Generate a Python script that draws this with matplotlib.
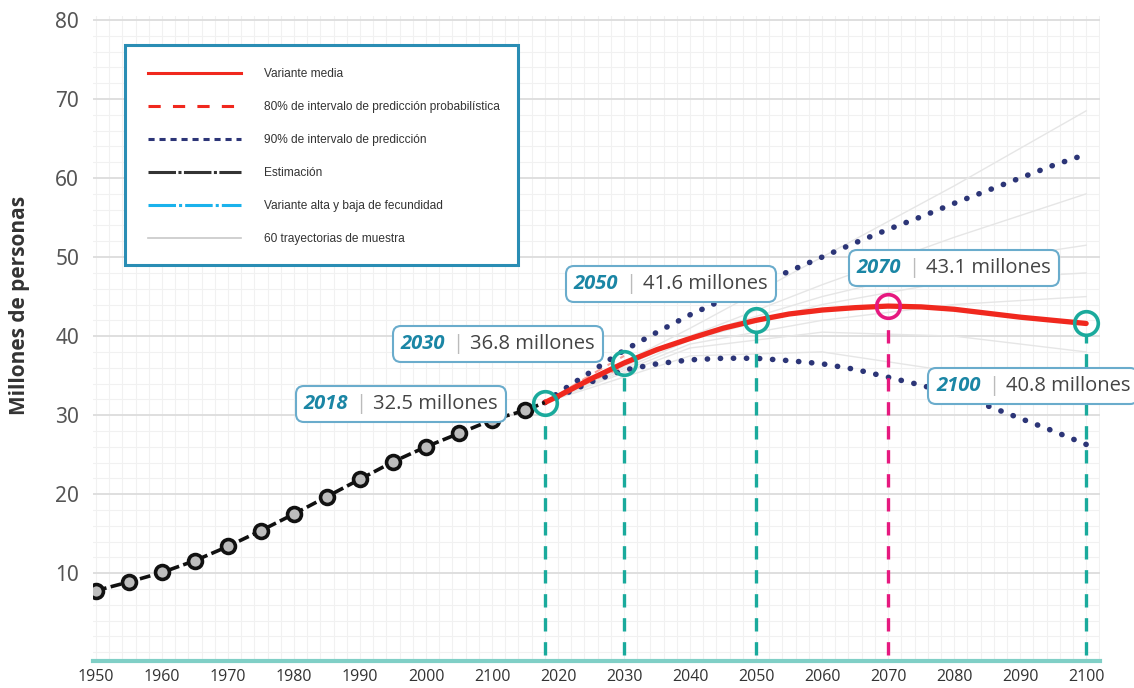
import matplotlib
matplotlib.use("Agg")
import matplotlib.pyplot as plt
from matplotlib.lines import Line2D
from matplotlib.patches import Rectangle
from matplotlib.ticker import MultipleLocator
from matplotlib.offsetbox import TextArea, HPacker, AnnotationBbox

# ---- data ----
years_hist = [1950, 1955, 1960, 1965, 1970, 1975, 1980, 1985, 1990, 1995, 2000, 2005, 2010, 2015]
pop_hist = [7.8, 8.9, 10.1, 11.6, 13.4, 15.4, 17.5, 19.7, 21.9, 24.1, 26.0, 27.7, 29.4, 30.6]

years_proj = [2018, 2020, 2025, 2030, 2035, 2040, 2045, 2050, 2055, 2060,
              2065, 2070, 2075, 2080, 2085, 2090, 2095, 2100]
median = [31.6, 32.4, 34.6, 36.6, 38.3, 39.7, 41.0, 42.0, 42.8, 43.3,
          43.6, 43.8, 43.7, 43.4, 42.9, 42.4, 42.0, 41.6]
upper90 = [31.6, 32.8, 35.5, 38.2, 40.5, 42.7, 44.6, 46.4, 48.2, 50.0,
           51.8, 53.5, 55.1, 56.8, 58.4, 60.0, 61.6, 63.0]
lower90 = [31.6, 32.3, 34.2, 35.7, 36.5, 37.0, 37.2, 37.2, 36.9, 36.5,
           35.8, 34.8, 33.8, 32.6, 31.2, 29.6, 28.0, 26.3]

years_pi80 = [2018, 2022, 2026, 2030]
upper80 = [31.6, 33.6, 35.6, 37.5]
lower80 = [31.6, 33.1, 34.7, 36.1]

years_traj = [2018, 2040, 2060, 2080, 2100]
trajectories = [
    [31.6, 41.0, 50.0, 59.0, 68.5],
    [31.6, 40.0, 46.5, 52.5, 58.0],
    [31.6, 40.0, 45.0, 49.0, 51.5],
    [31.6, 39.5, 44.0, 47.0, 48.0],
    [31.6, 39.0, 42.0, 44.0, 45.0],
    [31.6, 38.5, 40.5, 40.0, 38.0],
    [31.6, 37.5, 38.0, 35.5, 32.0],
]

key_years = [2018, 2030, 2050, 2070, 2100]
key_labels = ["2018", "2030", "2050", "2070", "2100"]
key_values = ["32.5", "36.8", "41.6", "43.1", "40.8"]
key_colors = ["#1aaa9c", "#1aaa9c", "#1aaa9c", "#e6197f", "#1aaa9c"]
# where each callout box sits (data coords)
label_pos = [(1996.2, 31.4), (2010.9, 39.0), (2037.1, 46.6), (2080.0, 48.6), (2092.0, 33.7)]

xtick_years = list(range(1950, 2101, 10))
xtick_labels = ["1950", "1960", "1970", "1980", "1990", "2000", "2100", "2020",
                "2030", "2040", "2050", "2060", "2070", "2080", "2090", "2100"]
ytick_vals = [10, 20, 30, 40, 50, 60, 70, 80]

legend_labels = ["Variante media",
                 "80% de intervalo de predicción probabilística",
                 "90% de intervalo de predicción",
                 "Estimación",
                 "Variante alta y baja de fecundidad",
                 "60 trayectorias de muestra"]

# ---- figure ----
W, H = 1134, 688
fig = plt.figure(figsize=(W / 100, H / 100), dpi=100)
ax = fig.add_axes([93 / W, 27 / H, 1007 / W, 645 / H])
ax.set_xlim(1949.55, 2102.1)
ax.set_ylim(-1.1, 80.5)

# grid
ax.xaxis.set_minor_locator(MultipleLocator(2))
ax.yaxis.set_minor_locator(MultipleLocator(2))
ax.grid(which="minor", color="#f1f1f1", lw=0.8, zorder=0)
ax.grid(which="major", axis="x", color="#f1f1f1", lw=0.8, zorder=0)
ax.grid(which="major", axis="y", color="#dcdcdc", lw=1.3, zorder=0)
ax.set_axisbelow(True)

for s in ["top", "right", "left"]:
    ax.spines[s].set_visible(False)
ax.spines["bottom"].set_color("#80cfc6")
ax.spines["bottom"].set_linewidth(3)

ax.set_xticks(xtick_years)
ax.set_xticklabels(xtick_labels, family="Open Sans", fontsize=11.5, color="#333333")
ax.set_yticks(ytick_vals)
ax.set_yticklabels([str(v) for v in ytick_vals], family="Noto Sans",
                   fontsize=15, color="#555555")
ax.tick_params(axis="both", which="both", length=0)
ax.tick_params(axis="x", pad=6)
ax.tick_params(axis="y", pad=10)

ax.set_ylabel("Millones de personas", fontsize=15, fontweight="bold",
              family="Open Sans", color="#333333")
ax.yaxis.set_label_coords(-0.0626, 0.552)

# sample trajectories
for tr in trajectories:
    ax.plot(years_traj, tr, color="#e6e6e6", lw=1.0, zorder=1)

# 80% interval (only visible near the start)
ax.plot(years_pi80, upper80, color="#f5a39b", lw=1.5, ls=(0, (4, 3)), zorder=2)
ax.plot(years_pi80, lower80, color="#f5a39b", lw=1.5, ls=(0, (4, 3)), zorder=2)

# 90% interval
for series in (upper90, lower90):
    ax.plot(years_proj, series, color="#2c3577", lw=4, ls=(0, (0.05, 2.3)),
            dash_capstyle="round", zorder=3)

# median
ax.plot(years_proj, median, color="#f0281e", lw=3.8, solid_capstyle="round", zorder=4)

# estimation
ax.plot(years_hist + [2018], pop_hist + [median[0]], color="#111111", lw=2.6,
        ls=(0, (3, 1.2)), zorder=4)
ax.plot(years_hist, pop_hist, ls="none", marker="o", ms=10, mfc="#bdbdbd",
        mec="#111111", mew=2.6, zorder=5)

# key markers, drop lines and callouts
for yr, lab, val, col, (lx, ly) in zip(key_years, key_labels, key_values, key_colors, label_pos):
    yv = median[years_proj.index(yr)]
    ax.plot([yr, yr], [-0.4, yv - 1.6], color=col, lw=2.4, ls=(0, (4, 3.2)), zorder=3)
    ax.plot([yr], [yv], marker="o", ms=17, mfc="none", mec=col, mew=2.6, zorder=6)

    t_year = TextArea(lab, textprops=dict(color="#1b86a5", fontsize=14.5, fontweight="bold",
                                          fontstyle="italic", family="Open Sans"))
    t_sep = TextArea("|", textprops=dict(color="#bbbbbb", fontsize=14.5, family="Open Sans"))
    t_val = TextArea(val + " millones", textprops=dict(color="#444444", fontsize=14.5,
                                                       family="Open Sans"))
    pack = HPacker(children=[t_year, t_sep, t_val], align="center", pad=0, sep=5)
    ab = AnnotationBbox(pack, (lx, ly), xycoords="data", box_alignment=(0.5, 0.5),
                        frameon=True, pad=0.45, fontsize=13, annotation_clip=False,
                        bboxprops=dict(boxstyle="round,pad=0.45,rounding_size=0.45",
                                       fc="white", ec="#6aaccc", lw=1.5),
                        zorder=8)
    ax.add_artist(ab)

# legend box
ax.add_patch(Rectangle((0.0318, 0.614), 0.3903, 0.341, transform=ax.transAxes,
                       fc="white", ec="#2a8db4", lw=2.2, zorder=9))
handles = [
    Line2D([], [], color="#f0281e", lw=2.2),
    Line2D([], [], color="#f0281e", lw=2.2, ls=(0, (4, 4))),
    Line2D([], [], color="#2c3577", lw=2.2, ls=(0, (2, 1.6))),
    Line2D([], [], color="#333333", lw=2.2, ls=(0, (9, 0.8, 1, 0.8))),
    Line2D([], [], color="#1ab2ec", lw=2.2, ls=(0, (9, 1, 1, 1))),
    Line2D([], [], color="#c8c8c8", lw=1.2),
]
leg = ax.legend(handles, legend_labels, loc="upper left", bbox_to_anchor=(0.0546, 0.919),
                frameon=False, borderpad=0, borderaxespad=0, handlelength=7.8,
                handletextpad=1.9, labelspacing=1.75,
                prop=dict(family="Liberation Sans", size=8.6))
for t in leg.get_texts():
    t.set_color("#333333")
leg.set_zorder(10)

fig.savefig("out.png", dpi=100)
